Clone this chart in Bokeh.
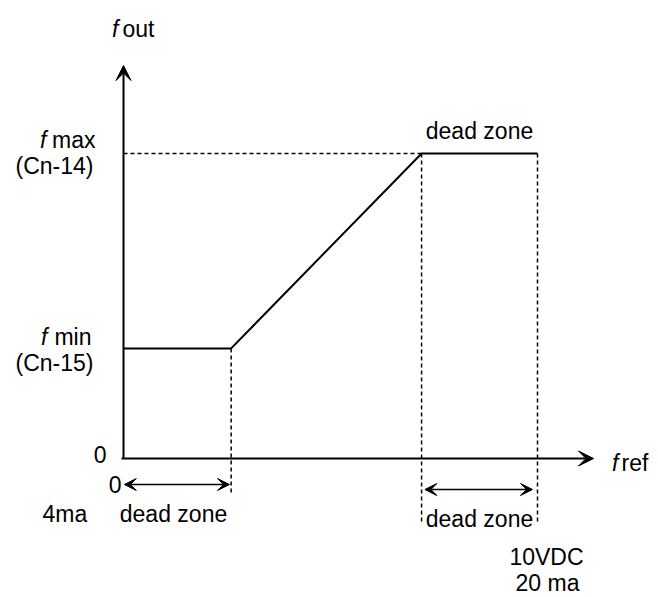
from bokeh.plotting import figure
from bokeh.models import Arrow, VeeHead, Label
from bokeh.embed import file_html
from bokeh.resources import INLINE

# ---- data (f ref in VDC, f out in % of f max) ----
ref_pts = [0.0, 2.6, 7.2, 10.0]
out_pts = [36.1, 36.1, 100.0, 100.0]
f_min = 36.1
f_max = 100.0
dz_low_end = 2.6
knee = 7.2
ref_max = 10.0

# ---- layout helpers (page pixels -> data) ----
X0_PX, X_SCALE = 123.0, 41.4
Y0_PX, Y_SCALE = 458.0, 3.05
W, H = 650, 597


def dx(px):
    return (px - X0_PX) / X_SCALE


def dy(py):
    return (Y0_PX - py) / Y_SCALE


p = figure(width=W, height=H, output_backend="svg", toolbar_location=None,
           x_range=(dx(0), dx(W)), y_range=(dy(H), dy(0)),
           x_axis_location=None, y_axis_location=None, min_border=0)
p.grid.visible = False
p.outline_line_color = None
p.background_fill_color = "white"
p.border_fill_color = "white"

# curve
p.line(ref_pts, out_pts, line_width=2, line_color="black")

# dashed guides
p.segment(x0=[0], y0=[f_max], x1=[knee], y1=[f_max], line_dash="4 3", line_width=1.5, line_color="black")
p.segment(x0=[dz_low_end], y0=[f_min], x1=[dz_low_end], y1=[dy(492)], line_dash="4 3", line_width=1.5, line_color="black")
p.segment(x0=[knee, ref_max], y0=[f_max, f_max], x1=[knee, ref_max], y1=[dy(522), dy(522)],
          line_dash="4 3", line_width=1.5, line_color="black")

# axes
p.add_layout(Arrow(x_start=dx(121), y_start=0, x_end=dx(593), y_end=0, line_width=2,
                   end=VeeHead(size=15, fill_color="black", line_color="black")))
p.add_layout(Arrow(x_start=0, y_start=0, x_end=0, y_end=dy(65), line_width=2,
                   end=VeeHead(size=15, fill_color="black", line_color="black")))

# dead-zone double arrows
for xs, xe, yy in [(0.02, dz_low_end - 0.04, dy(484)), (knee + 0.08, ref_max - 0.12, dy(489))]:
    p.add_layout(Arrow(x_start=xs, y_start=yy, x_end=xe, y_end=yy, line_width=1.5,
                       start=VeeHead(size=12, fill_color="black", line_color="black"),
                       end=VeeHead(size=12, fill_color="black", line_color="black")))

FONT = "Liberation Sans"
FS = "23px"


def lab(text, px, py, align="left", italic=False):
    p.add_layout(Label(x=dx(px), y=dy(py), text=text, text_font=FONT, text_font_size=FS,
                       text_align=align, text_baseline="middle",
                       text_font_style="italic" if italic else "normal", text_color="black"))


lab("f", 118, 28, "right", True)
lab("out", 122, 28)
lab("f", 46, 139, "right", True)
lab("max", 95, 139, "right")
lab("(Cn-14)", 93, 165, "right")
lab("f", 47, 336, "right", True)
lab("min", 91, 336, "right")
lab("(Cn-15)", 93, 362, "right")
lab("0", 106, 454, "right")
lab("0", 121, 484, "right")
lab("4ma", 42, 513)
lab("dead zone", 173, 513, "center")
lab("dead zone", 479, 130, "center")
lab("dead zone", 479, 518, "center")
lab("10VDC", 546, 556, "center")
lab("20 ma", 547, 582, "center")
lab("f", 618, 462, "right", True)
lab("ref", 621, 462)

open("out.html", "w").write(file_html(p, INLINE))
